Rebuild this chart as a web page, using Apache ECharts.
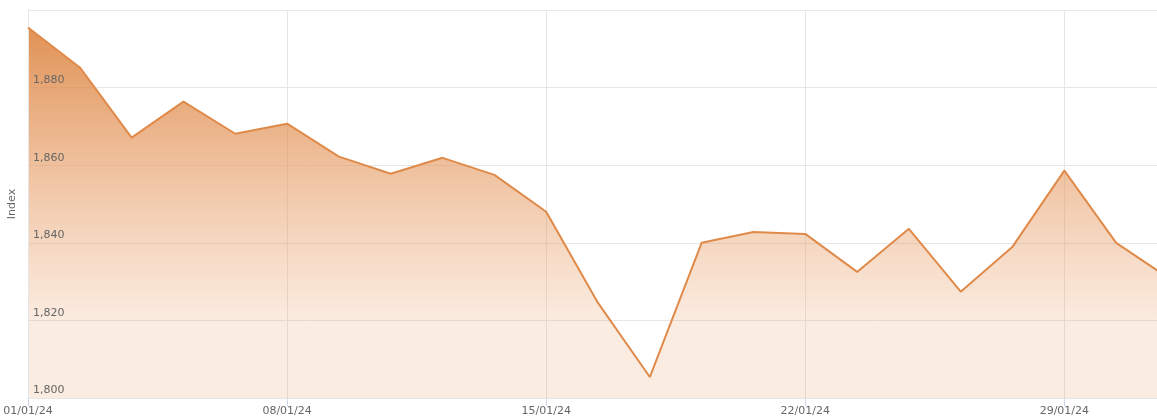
<!DOCTYPE html>
<html>
<head>
<meta charset="utf-8">
<script src="https://cdn.jsdelivr.net/npm/echarts@6/dist/echarts.min.js"></script>
<style>
  html, body { margin: 0; padding: 0; background: #fff; }
  #chart { width: 1157px; height: 419px; }
</style>
</head>
<body>
<div id="chart"></div>
<script>
// business days, January 2024
const dates = [
  "01/01/24", "02/01/24", "03/01/24", "04/01/24", "05/01/24",
  "08/01/24", "09/01/24", "10/01/24", "11/01/24", "12/01/24",
  "15/01/24", "16/01/24", "17/01/24", "18/01/24", "19/01/24",
  "22/01/24", "23/01/24", "24/01/24", "25/01/24", "26/01/24",
  "29/01/24", "30/01/24", "31/01/24"
];
const indexValues = [
  1895.5, 1885.2, 1867.1, 1876.4, 1868.1,
  1870.7, 1862.2, 1857.8, 1861.9, 1857.5,
  1848.0, 1824.5, 1805.4, 1840.0, 1842.8,
  1842.3, 1832.5, 1843.6, 1827.4, 1839.0,
  1858.6, 1840.0, 1831.0
];
const yTicks = [1800, 1820, 1840, 1860, 1880, 1900];

const chart = echarts.init(document.getElementById("chart"));
const textColor = "#666666";
const font = "DejaVu Sans, sans-serif";

chart.setOption({
  animation: false,
  // last business day sits just past the right edge
  grid: { left: 28, width: 1140, top: 10, bottom: 21, outerBoundsMode: "none", containLabel: false },
  xAxis: {
    type: "category",
    data: dates,
    boundaryGap: false,
    axisLine: { lineStyle: { color: "#ccd6eb" } },
    axisTick: { show: true, interval: 4, length: 8, lineStyle: { color: "#ccd6eb" } },
    axisLabel: { interval: 4, color: textColor, fontSize: 11, margin: 8, fontFamily: font },
    splitLine: { show: true, interval: 4, lineStyle: { color: "#e6e6e6" } }
  },
  yAxis: {
    type: "value",
    min: yTicks[0],
    max: yTicks[yTicks.length - 1],
    interval: 20,
    z: 3,
    name: "Index",
    nameLocation: "middle",
    nameGap: 10,
    nameRotate: 90,
    nameTextStyle: { color: textColor, fontSize: 11, fontFamily: font },
    axisLine: { show: true, lineStyle: { color: "#e6e6e6" } },
    axisTick: { show: false },
    axisLabel: {
      inside: true,
      margin: 5,
      verticalAlign: "bottom",
      padding: [0, 0, 2, 0],
      showMaxLabel: false,
      color: textColor,
      fontSize: 11,
      fontFamily: font,
      formatter: (v) => v === yTicks[yTicks.length - 1] ? "" : v.toLocaleString("en-US")
    },
    splitLine: { lineStyle: { color: "#e6e6e6" } }
  },
  series: [{
    type: "line",
    data: indexValues,
    symbol: "none",
    lineStyle: { color: "#e08a4a", width: 2 },
    areaStyle: {
      opacity: 1,
      color: {
        type: "linear", x: 0, y: 0, x2: 0, y2: 1, global: false,
        colorStops: [
          { offset: 0, color: "rgba(223, 140, 76, 0.95)" },
          { offset: 0.45, color: "rgba(228, 148, 88, 0.5)" },
          { offset: 0.8, color: "rgba(234, 160, 105, 0.2)" },
          { offset: 1, color: "rgba(234, 160, 105, 0.2)" }
        ]
      }
    }
  }]
});
</script>
</body>
</html>
